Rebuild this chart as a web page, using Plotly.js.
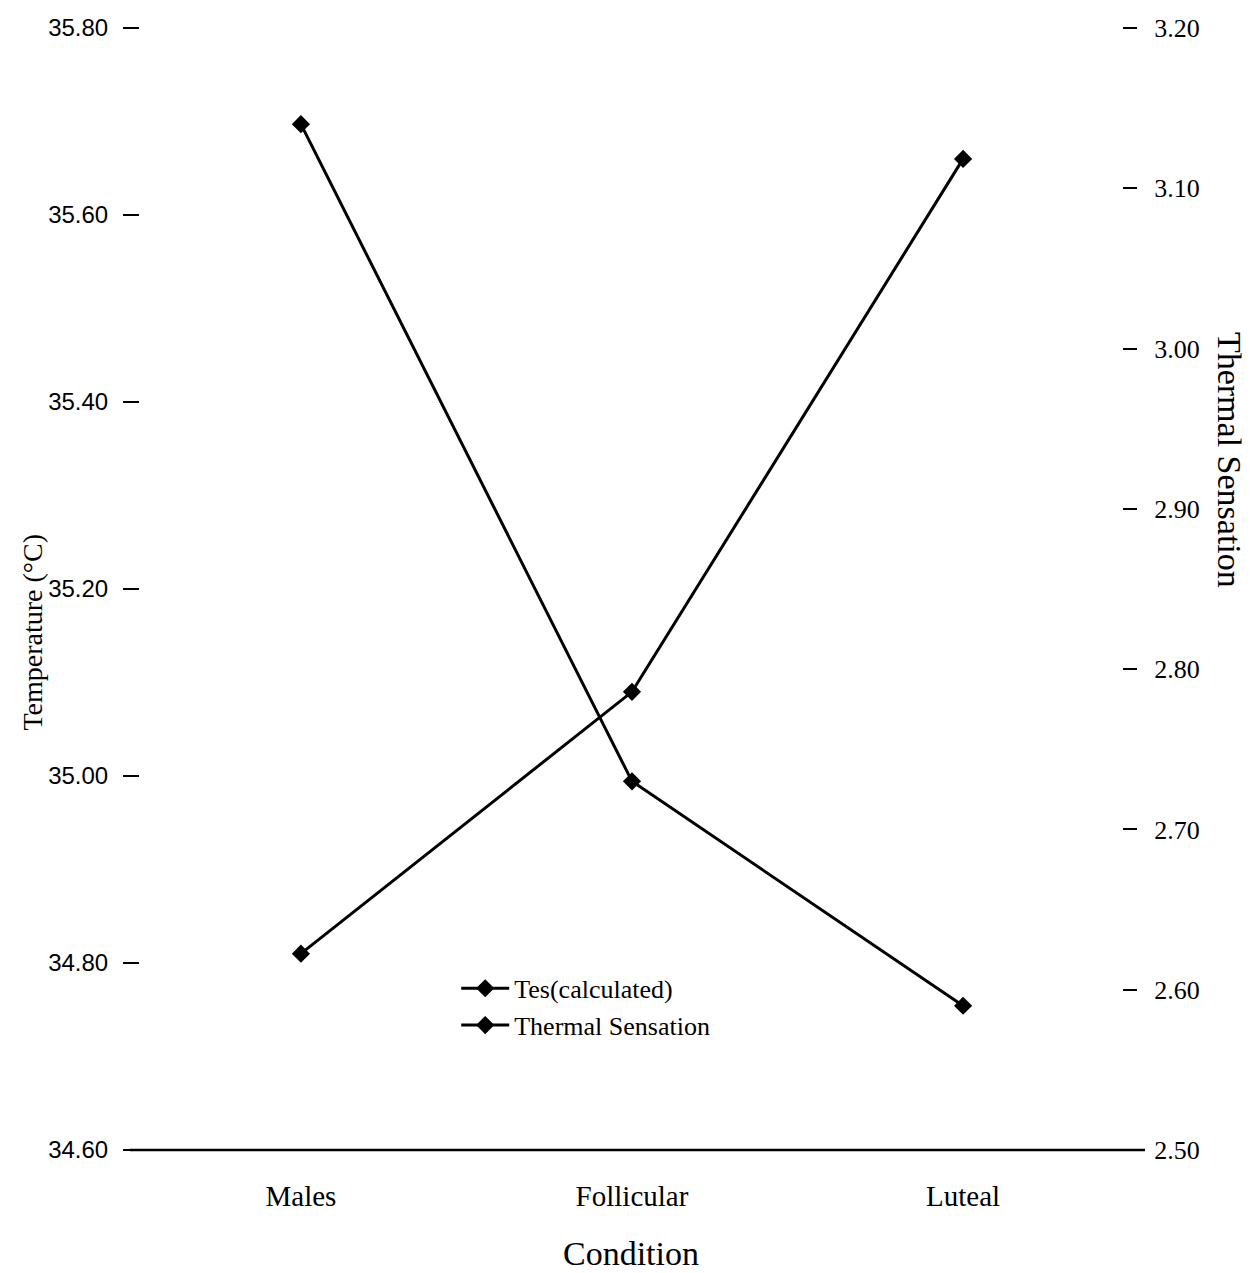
<!DOCTYPE html>
<html>
<head>
<meta charset="utf-8">
<script src="https://cdn.plot.ly/plotly-3.0.1.min.js"></script>
<style>
html,body{margin:0;padding:0;background:#fff;}
#chart{width:1252px;height:1273px;}
</style>
</head>
<body>
<div id="chart"></div>
<script>
const conditions = ["Males", "Follicular", "Luteal"];
const tesCalculated = [34.81, 35.09, 35.66];
const thermalSensation = [3.14, 2.73, 2.59];
const leftTicks = [34.6, 34.8, 35.0, 35.2, 35.4, 35.6, 35.8];
const rightTicks = [2.5, 2.6, 2.7, 2.8, 2.9, 3.0, 3.1, 3.2];

const serif = "Liberation Serif, Times New Roman, serif";

const traces = [
  {
    x: conditions, y: tesCalculated, name: "Tes(calculated)",
    type: "scatter", mode: "lines+markers", yaxis: "y",
    line: {color: "#000", width: 3},
    marker: {symbol: "diamond", size: 14, color: "#000"}
  },
  {
    x: conditions, y: thermalSensation, name: "Thermal Sensation",
    type: "scatter", mode: "lines+markers", yaxis: "y2",
    line: {color: "#000", width: 3},
    marker: {symbol: "diamond", size: 14, color: "#000"}
  }
];

const layout = {
  width: 1252, height: 1273,
  margin: {l: 140, r: 130, t: 28, b: 123},
  paper_bgcolor: "#fff", plot_bgcolor: "#fff",
  showlegend: true,
  legend: {
    x: 0.322, y: 0.165, xanchor: "left", yanchor: "top",
    font: {family: serif, size: 26, color: "#000"},
    bgcolor: "rgba(0,0,0,0)", tracegroupgap: 0, itemwidth: 48
  },
  xaxis: {
    type: "category", range: [-0.486, 2.48],
    showline: false, showgrid: false, zeroline: false, ticks: "",
    tickfont: {family: serif, size: 29, color: "#000"},
    ticklabelstandoff: 26,
    title: {text: "Condition", font: {family: serif, size: 34, color: "#000"}, standoff: 30}
  },
  yaxis: {
    range: [34.6, 35.8], tickvals: leftTicks, tickformat: ".2f",
    showline: false, showgrid: false, zeroline: false,
    ticks: "outside", ticklen: 16, tickwidth: 2, tickcolor: "#000",
    ticklabelstandoff: 10,
    tickfont: {family: "Liberation Sans, Arial, sans-serif", size: 24, color: "#000"}
  },
  yaxis2: {
    range: [2.5, 3.2], tickvals: rightTicks, tickformat: ".2f",
    overlaying: "y", side: "right",
    showline: false, showgrid: false, zeroline: false,
    ticks: "outside", ticklen: 14, tickwidth: 2, tickcolor: "#000",
    ticklabelstandoff: 12,
    tickfont: {family: serif, size: 26, color: "#000"}
  },
  shapes: [
    {type: "line", xref: "paper", yref: "paper", x0: -0.0102, x1: 1.0234, y0: 0, y1: 0,
     line: {color: "#000", width: 2.5}}
  ],
  annotations: [
    {text: "Temperature (°C)", xref: "paper", yref: "paper", x: -0.109, y: 0.462,
     xanchor: "center", yanchor: "middle", textangle: -90, showarrow: false,
     font: {family: serif, size: 28, color: "#000"}},
    {text: "Thermal Sensation", xref: "paper", yref: "paper", x: 1.109, y: 0.615,
     xanchor: "center", yanchor: "middle", textangle: 90, showarrow: false,
     font: {family: serif, size: 34, color: "#000"}}
  ]
};

Plotly.newPlot("chart", traces, layout, {displayModeBar: false, staticPlot: true});
</script>
</body>
</html>
